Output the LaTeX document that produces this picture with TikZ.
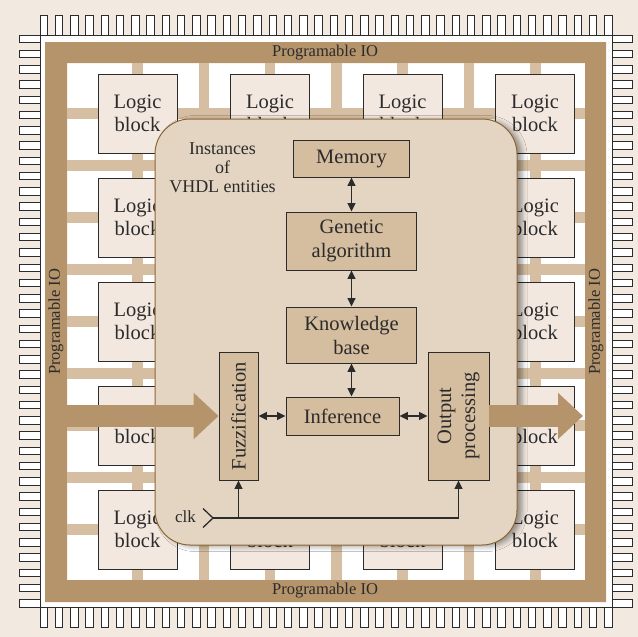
\documentclass[tikz,border=0pt]{standalone}
\usepackage{fontspec}
\setmainfont{Liberation Serif}
\usetikzlibrary{arrows.meta,shadows.blur}
\definecolor{bgc}{HTML}{F2E9E0}
\definecolor{logicc}{HTML}{F2E8DF}
\definecolor{framec}{HTML}{B5946B}
\definecolor{gridc}{HTML}{D6BEA2}
\definecolor{panelc}{HTML}{E4D5C2}
\definecolor{panelb}{HTML}{8C6636}
\definecolor{boxc}{HTML}{D5BD9F}
\definecolor{darkc}{HTML}{2B2B2B}
\begin{document}
\begin{tikzpicture}[x=1pt,y=-1pt,
  pin/.style={draw=darkc, fill=white, line width=0.8pt},
  gridline/.style={draw=gridc, line width=10.5pt},
  logic/.style={draw=darkc, fill=logicc, line width=0.9pt, minimum width=79pt, minimum height=79pt, inner sep=0pt, align=center, font=\fontsize{20.5}{23}\selectfont, text=darkc},
  panel/.style={draw=panelb, fill=panelc, line width=1pt, rounded corners=35pt, minimum width=362pt, minimum height=426pt, inner sep=0pt,
    blur shadow={shadow xshift=5pt, shadow yshift=-1.5pt, shadow blur radius=5pt, shadow opacity=40}},
  fbox/.style={draw=darkc, fill=boxc, line width=0.9pt, inner sep=0pt, align=center, font=\fontsize{20.5}{24}\selectfont, text=darkc},
  dbl/.style={draw=darkc, line width=1.3pt, {Triangle[length=8.5pt,width=8pt]}-{Triangle[length=8.5pt,width=8pt]}},
  sgl/.style={draw=darkc, line width=1.3pt, -{Triangle[length=8.5pt,width=8pt]}},
  wire/.style={draw=darkc, line width=1.3pt},
  bigarrow/.style={draw=framec, line width=22pt, -{Triangle[length=25pt,width=45pt]}},
  iolabel/.style={font=\fontsize{16.5}{18}\selectfont, text=darkc, inner sep=0pt}
]
\useasboundingbox (0,0) rectangle (638,637);
\fill[bgc] (0,0) rectangle (638,637);
% pins
\foreach \i in {0,...,37}{
  \pgfmathsetmacro\p{40+15.26*\i}
  \pgfmathsetmacro\q{35+15.26*\i}
  \draw[pin] (\p,15) rectangle ++(7.5,20);
  \draw[pin] (\p,607) rectangle ++(7.5,20);
  \draw[pin] (19,\q) rectangle ++(21,7.5);
  \draw[pin] (612,\q) rectangle ++(20,7.5);
}
\draw[pin] (40,35) rectangle (612,607);
% frame
\fill[framec, even odd rule] (45,42) rectangle (606,602) (67,63) rectangle (585,580);
% routing grid
\foreach \k in {0,...,6} \draw[gridline] ({137.5+66.3*\k},63) -- ++(0,517);
\foreach \k in {0,...,8} \draw[gridline] (67,{113.5+52*\k}) -- (585,{113.5+52*\k});
% logic blocks
\foreach \c in {0,...,3}{
  \foreach \r in {0,...,4}{
    \node[logic] (lb\r\c) at ({137.5+132.5*\c},{113.5+104*\r}) {Logic\\block};
  }
}
% panel
\node[panel] (panel) at (336,332) {};
\node[align=center, font=\fontsize{18}{19}\selectfont, text=darkc, inner sep=0pt] (inst) at (222.5,168) {Instances\\of\\VHDL entities};
% function boxes
\node[fbox, minimum width=116pt, minimum height=37pt] (mem) at (351.5,158.5) {Memory};
\node[fbox, minimum width=130pt, minimum height=58pt] (gen) at (351.5,241) {Genetic\\algorithm};
\node[fbox, minimum width=130pt, minimum height=56pt] (kb) at (351.5,335) {Knowledge\\base};
\node[fbox, minimum width=113pt, minimum height=38pt] (inf) at (342.5,416) {Inference};
\node[fbox, minimum width=39pt, minimum height=128pt] (fuzz) at (238.5,416) {};
\node[rotate=90, font=\fontsize{20.5}{24}\selectfont, text=darkc] at (fuzz.center) {Fuzzification};
\node[fbox, minimum width=61pt, minimum height=128pt] (outp) at (458.5,416) {};
\node[rotate=90, align=center, font=\fontsize{20.5}{24}\selectfont, text=darkc] at (outp.center) {Output\\processing};
% connectors
\draw[dbl] (mem.south) -- (gen.north);
\draw[dbl] (gen.south) -- (kb.north);
\draw[dbl] (kb.south) -- (kb.south |- inf.north);
\draw[dbl] (fuzz.east) -- (inf.west);
\draw[dbl] (inf.east) -- (outp.west);
% clock
\node[anchor=east, font=\fontsize{17}{19}\selectfont, text=darkc, inner sep=0pt] (clk) at (196,517) {clk};
\coordinate (ck) at (213,518);
\draw[wire] (203,508.5) -- (ck) -- (203,527.5);
\draw[wire] (ck) -- (outp.south |- ck) coordinate (ckr);
\draw[sgl] (ckr) -- (outp.south);
\draw[sgl] (fuzz.south |- ck) -- (fuzz.south);
% big arrows
\coordinate (inL) at (67,416);
\coordinate (outR) at (583,416);
\draw[bigarrow] (inL) -- (fuzz.west);
\draw[bigarrow] (outp.east) -- (outR);
% frame labels
\node[iolabel] (iot) at (325,52.5) {Programable IO};
\node[iolabel] (iob) at (325,591) {Programable IO};
\node[iolabel, rotate=90] (iol) at (56,322) {Programable IO};
\node[iolabel, rotate=90] (ior) at (596,322) {Programable IO};
\end{tikzpicture}
\end{document}
